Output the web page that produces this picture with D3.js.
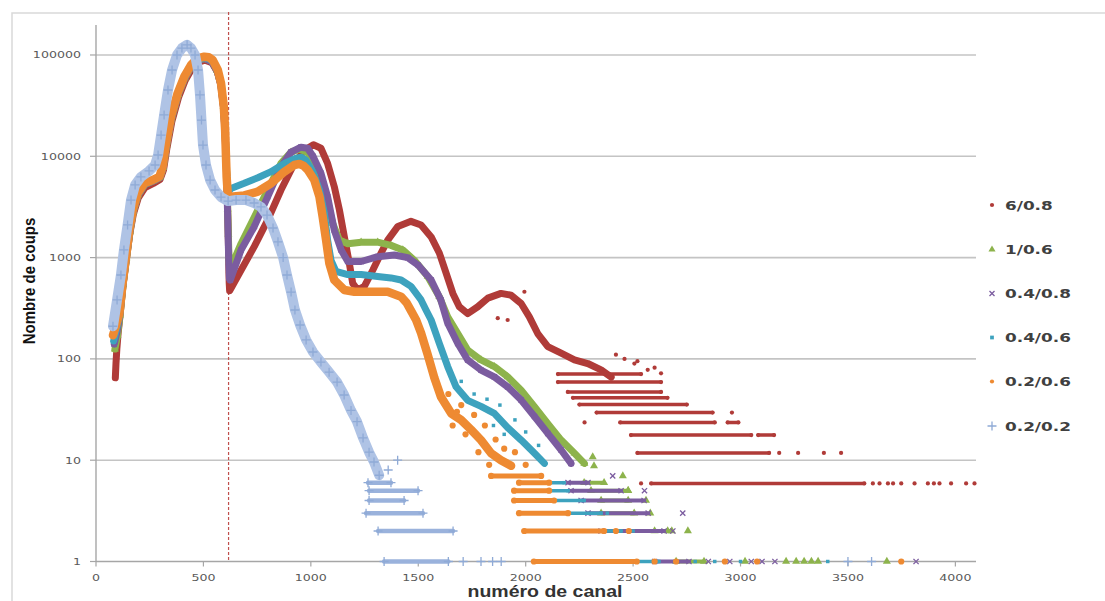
<!DOCTYPE html>
<html><head><meta charset="utf-8">
<script src="https://cdn.jsdelivr.net/npm/d3@7"></script>
<style>body{margin:0;background:#fff}</style>
</head><body>
<svg id="chart" width="1105" height="601"></svg>
<script>
// ---------------- DATA ----------------
const seriesLabels = ["6/0.8", "1/0.6", "0.4/0.8", "0.4/0.6", "0.2/0.6", "0.2/0.2"];
const xTicks = [0, 500, 1000, 1500, 2000, 2500, 3000, 3500, 4000];
const yTicks = [1, 10, 100, 1000, 10000, 100000];
const xMax = 4096;
const yMax = 197700;
const thresholdChannel = 617;
const xTitle = "numéro de canal";
const yTitle = "Nombre de coups";

// main curves: [channel, count]
const curve_6_08 = [[90,65],[93,90],[97,125],[103,180],[112,270],[125,520],[141,950],[157,1700],[174,2700],[197,3900],[228,4900],[267,5400],[298,5900],[314,7300],[330,12000],[353,22000],[384,38000],[415,56000],[446,73000],[477,85000],[508,89000],[540,84000],[565,68000],[582,50000],[594,30000],[601,17000],[606,9000],[610,5000],[613,2800],[616,1500],[618,900],[620,560],[622,470],[675,750],[737,1290],[799,2340],[861,4650],[923,8500],[970,11500],[1012,13000],[1047,12000],[1078,8500],[1109,5020],[1133,2950],[1156,1600],[1179,880],[1195,557],[1218,479],[1249,520],[1288,750],[1327,1110],[1358,1490],[1405,2030],[1466,2280],[1513,2100],[1560,1600],[1598,1110],[1630,700],[1661,443],[1691,327],[1730,280],[1777,327],[1824,398],[1885,443],[1932,425],[1979,352],[2017,260],[2056,178],[2103,132],[2165,114],[2227,98],[2289,90],[2351,78],[2398,66]];
const curve_1_06 = [[88,125],[100,170],[112,270],[126,540],[142,990],[158,1790],[174,2850],[197,4150],[228,5250],[267,5700],[298,6150],[313,7700],[329,12800],[352,23500],[383,40500],[414,59000],[445,77000],[476,89000],[507,92000],[539,86000],[564,70000],[581,52000],[594,31000],[601,18000],[606,9800],[610,5500],[613,3000],[616,1700],[619,1000],[622,750],[675,1370],[737,2510],[799,4650],[861,8500],[908,11000],[947,11800],[987,10800],[1032,7330],[1071,3990],[1102,2170],[1133,1490],[1172,1370],[1234,1420],[1311,1420],[1373,1320],[1428,1190],[1482,940],[1544,650],[1598,411],[1637,260],[1684,178],[1730,122],[1792,97.6],[1854,84],[1916,66.5],[1979,49],[2041,33.7],[2103,23],[2165,15.8],[2227,11.7],[2273,9.3]];
const curve_04_08 = [[85,140],[98,185],[111,275],[125,540],[141,990],[157,1780],[173,2850],[196,4150],[227,5250],[266,5700],[297,6150],[312,7700],[328,12800],[351,23500],[382,40500],[413,59000],[444,77000],[475,89000],[506,92000],[538,86000],[563,70000],[580,52000],[593,31000],[600,18000],[605,9800],[609,5500],[612,3000],[615,1600],[618,900],[621,620],[625,600],[675,1190],[737,2030],[799,3990],[861,7890],[908,11000],[954,12300],[985,12000],[1010,10000],[1047,6800],[1078,3990],[1109,1870],[1141,1190],[1172,915],[1234,915],[1311,1020],[1389,1060],[1451,1000],[1500,840],[1560,601],[1605,382],[1637,225],[1684,142],[1730,97.6],[1792,77.6],[1854,66.5],[1916,53],[1979,39.2],[2041,27],[2103,18.4],[2165,12.6],[2211,9.3]];
const curve_04_06 = [[82,150],[96,200],[110,270],[125,530],[141,980],[156,1800],[172,2850],[195,4200],[226,5300],[265,5750],[296,6200],[311,7700],[327,13000],[350,24000],[381,41000],[412,60000],[443,78000],[474,90000],[505,93500],[528,91000],[545,85000],[568,68000],[583,50000],[595,30000],[601,18000],[605,9800],[609,6000],[613,4600],[618,4500],[628,4820],[690,5410],[753,6140],[815,7050],[877,8500],[931,9600],[955,9800],[978,9100],[1009,7050],[1040,4650],[1063,2740],[1078,1490],[1094,940],[1117,730],[1172,680],[1234,680],[1311,650],[1373,630],[1420,601],[1466,520],[1513,382],[1536,304],[1560,242],[1598,142],[1637,84],[1676,53],[1730,39],[1792,34],[1854,29],[1916,21],[1979,15.8],[2041,11.7],[2087,9.3]];
const curve_02_06 = [[79,171],[95,220],[109,282],[124,557],[140,1020],[155,1870],[171,2950],[194,4310],[225,5410],[264,5830],[295,6290],[310,7890],[326,13400],[349,24600],[380,41900],[411,61100],[442,79600],[473,92700],[504,96200],[525,95000],[543,89300],[567,71100],[582,52500],[595,30900],[601,18200],[605,9900],[608,6290],[613,4310],[620,3990],[628,3990],[690,4110],[753,4470],[815,5410],[877,7050],[923,8200],[947,8400],[965,8100],[986,7330],[1016,5830],[1040,3990],[1055,2530],[1071,1490],[1086,879],[1109,601],[1156,479],[1203,460],[1280,460],[1358,460],[1420,411],[1445,360],[1466,300],[1490,242],[1513,180],[1544,110],[1575,65],[1606,42],[1653,29],[1699,25],[1746,20],[1792,15.8],[1839,11.7],[1885,10],[1932,8.8]];
const curve_02_02 = [[79,210],[98,382],[116,673],[130,1190],[147,2100],[163,3700],[182,5210],[209,6250],[247,7170],[275,8200],[289,10300],[303,16200],[317,25600],[335,45100],[354,71100],[377,100000],[400,117000],[424,126000],[442,117000],[461,100000],[475,71100],[484,40300],[491,22800],[498,12900],[512,8200],[531,5830],[554,4650],[582,3960],[615,3610],[652,3700],[698,3700],[736,3460],[768,3160],[796,2630],[824,1960],[847,1430],[871,1000],[889,673],[908,457],[926,304],[950,216],[978,154],[1010,117],[1047,93],[1085,74],[1122,59],[1155,44],[1187,31],[1215,24],[1243,16.6],[1271,12],[1294,9.6],[1318,7.1]];

// runs of equal low counts: [count, fromChannel, toChannel]
const runs_6_08 = [[70.8,2150,2537],[59,2150,2630],[47.2,2196,2630],[41.3,2220,2660],[35.4,2250,2750],[29.5,2330,2870],[23.6,2440,2880],[23.6,2940,2990],[17.7,2490,3050],[17.7,3082,3156],[11.8,2520,3133],[5.9,2584,3576]];
const runs_1_06 = [[6,2272,2365],[5,2304,2477],[4,2351,2477],[3,2351,2505],[2,2600,2680],[1,2700,2830]];
const runs_04_08 = [[6,2197,2290],[5,2211,2444],[4,2258,2551],[3,2290,2570],[2,2351,2644],[1,2600,2760]];
const runs_04_06 = [[6,2072,2179],[5,2072,2197],[4,2109,2272],[3,2132,2351],[2,2179,2444],[1,2517,2620]];
const runs_02_06 = [[7,1839,2072],[6,1969,2109],[5,1946,2109],[4,1946,2132],[3,1969,2197],[2,1993,2365],[1,2038,2517]];
const runs_02_02 = [[6,1266,1373],[5,1271,1499],[4,1271,1434],[3,1257,1522],[2,1313,1662],[1,1341,1640]];

// isolated points: [channel, count]
const dots_6_08 = [[1870,252],[1916,242],[1994,460],[2420,110],[2460,100],[2520,95],[2600,82],[2506,90],[2568,78],[2630,72],[2274,23.6],[2537,5.9],[2960,29.5],[3180,11.8],[3268,11.8],[3388,11.8],[3468,11.8],[3616,5.9],[3647,5.9],[3686,5.9],[3710,5.9],[3748,5.9],[3810,5.9],[3872,5.9],[3900,5.9],[3926,5.9],[3980,5.9],[4050,5.9],[4089,5.9]];
const dots_1_06 = [[2312,10.8],[2318,8.8],[2452,7],[2477,5],[2560,4],[2580,3],[2661,2],[2755,2],[3021,1],[3212,1],[3259,1],[3296,1],[3330,1],[3361,1],[3681,1]];
const dots_04_08 = [[2405,7],[2553,5],[2731,3],[2685,2],[2850,1],[2950,1],[3050,1],[3100,1],[3160,1],[3817,1]];
const dots_04_06 = [[1700,60],[1760,45],[1820,40],[1850,22],[1880,35],[1900,18],[1950,25],[2000,19],[2060,14],[2380,3],[2500,2],[2695,1],[2789,1],[2880,1],[3000,1],[3406,1]];
const dots_02_06 = [[1640,45],[1660,22],[1680,30],[1700,35],[1720,18],[1760,28],[1780,12],[1810,22],[1830,9],[1860,16],[1900,13],[1950,12],[2000,9],[2420,2],[2480,2],[2600,1],[2700,1],[2927,1],[3077,1],[3748,1]];
const dots_02_02 = [[1360,8],[1404,10],[1709,1],[1792,1],[1846,1],[1886,1],[3500,1],[3610,1]];

// ---------------- STYLE ----------------
const styles = [
  {color:"#B03B38", band:"#B03B38", run:"#B03B38", sym:"circle", size:14, bandW:7, runW:3.5},
  {color:"#8DB34C", band:"#8DB34C", run:"#8DB34C", sym:"triangle", size:28, bandW:7, runW:4},
  {color:"#7B5C9F", band:"#7B5C9F", run:"#7B5C9F", sym:"x", size:2.6, bandW:7, runW:4},
  {color:"#3DA2BE", band:"#3DA2BE", run:"#3DA2BE", sym:"square", size:12, bandW:7, runW:3.5},
  {color:"#EE8A32", band:"#EE8A32", run:"#EE8A32", sym:"circle", size:30, bandW:8.5, runW:5},
  {color:"#8FAAD6", band:"#AFC3E5", run:"#9AB2DC", sym:"plus", size:4.5, bandW:10, runW:4.5}
];
const curves = [curve_6_08, curve_1_06, curve_04_08, curve_04_06, curve_02_06, curve_02_02];
const runs = [runs_6_08, runs_1_06, runs_04_08, runs_04_06, runs_02_06, runs_02_02];
const dots = [dots_6_08, dots_1_06, dots_04_08, dots_04_06, dots_02_06, dots_02_02];

// ---------------- DRAW ----------------
const svg = d3.select("#chart");
const x = d3.scaleLinear().domain([0, xMax]).range([96, 976]);
const y = d3.scaleLog().domain([1, yMax]).range([561.5, 25]);

// outer chart border
svg.append("path").attr("d","M12,601 L12,13 L1105,13").attr("fill","none").attr("stroke","#d9d9d9").attr("stroke-width",1.5);

// gridlines
svg.append("g").selectAll("line").data(yTicks.filter(t=>t>1)).join("line")
  .attr("x1", x(0)).attr("x2", x(xMax)).attr("y1", d=>y(d)).attr("y2", d=>y(d))
  .attr("stroke","#c4c4c4").attr("stroke-width",1.6);

// axes
svg.append("line").attr("x1",x(0)).attr("x2",x(0)).attr("y1",y(yMax)).attr("y2",y(1)).attr("stroke","#a6a6a6").attr("stroke-width",1.4);
svg.append("line").attr("x1",x(0)).attr("x2",x(xMax)).attr("y1",y(1)).attr("y2",y(1)).attr("stroke","#a6a6a6").attr("stroke-width",1.4);
svg.append("g").selectAll("line").data(yTicks).join("line")
  .attr("x1", x(0)-6).attr("x2", x(0)).attr("y1", d=>y(d)).attr("y2", d=>y(d))
  .attr("stroke","#a6a6a6").attr("stroke-width",1.2);
svg.append("g").selectAll("line").data(xTicks).join("line")
  .attr("x1", d=>x(d)).attr("x2", d=>x(d)).attr("y1", y(1)).attr("y2", y(1)+5)
  .attr("stroke","#a6a6a6").attr("stroke-width",1.2);

// tick labels
svg.append("g").selectAll("text").data(yTicks).join("text")
  .attr("transform", d=>`translate(81,${y(d)+3.5}) scale(1.33,1)`)
  .attr("text-anchor","end").attr("font-family","DejaVu Sans").attr("font-size",9.5)
  .attr("fill","#595959").text(d=>d);
svg.append("g").selectAll("text").data(xTicks).join("text")
  .attr("transform", d=>`translate(${x(d)},${y(1)+19.5}) scale(1.33,1)`)
  .attr("text-anchor","middle").attr("font-family","DejaVu Sans").attr("font-size",9.5)
  .attr("fill","#595959").text(d=>d);

// axis titles
svg.append("text").attr("transform","translate(35,281) scale(1.15,1) rotate(-90)")
  .attr("text-anchor","middle").attr("font-family","Liberation Sans").attr("font-weight","bold")
  .attr("font-size",15).attr("fill","#111").text(yTitle);
svg.append("text").attr("transform","translate(545,597) scale(1.22,1)")
  .attr("text-anchor","middle").attr("font-family","Liberation Sans").attr("font-weight","bold")
  .attr("font-size",16).attr("fill","#333").text(xTitle);

// threshold line
svg.append("line").attr("x1",x(thresholdChannel)).attr("x2",x(thresholdChannel))
  .attr("y1",12).attr("y2",y(1)).attr("stroke","#C0504D").attr("stroke-width",1.2)
  .attr("stroke-dasharray","3,2");

function symPath(st){
  if (st.sym==="circle") return d3.symbol(d3.symbolCircle, st.size)();
  if (st.sym==="square") return d3.symbol(d3.symbolSquare, st.size)();
  if (st.sym==="triangle") return d3.symbol(d3.symbolTriangle, st.size)();
  const s = st.size;
  if (st.sym==="x") return `M${-s},${-s}L${s},${s}M${-s},${s}L${s},${-s}`;
  return `M${-s},0H${s}M0,${-s}V${s}`;
}
function drawMarks(g, data, st){
  const isStroke = st.sym==="x" || st.sym==="plus";
  g.selectAll(null).data(data).join("path")
    .attr("transform", d=>`translate(${x(d[0])},${y(d[1])})`)
    .attr("d", symPath(st))
    .attr("fill", isStroke ? "none" : st.color)
    .attr("stroke", isStroke ? st.color : "none")
    .attr("stroke-width", isStroke ? 1.3 : 0);
}

const line = d3.line().x(d=>x(d[0])).y(d=>y(d[1]));
curves.forEach((c, i) => {
  const st = styles[i];
  const g = svg.append("g");
  g.append("path").attr("d", line(c)).attr("fill","none").attr("stroke", st.band)
    .attr("stroke-width", st.bandW).attr("stroke-linejoin","round").attr("stroke-linecap","round");
  g.selectAll(null).data(runs[i]).join("line")
    .attr("x1", d=>x(d[1])).attr("x2", d=>x(d[2])).attr("y1", d=>y(d[0])).attr("y2", d=>y(d[0]))
    .attr("stroke", st.run).attr("stroke-width", st.runW).attr("stroke-linecap","round");
  drawMarks(g, c, st);
  drawMarks(g, dots[i], st);
  drawMarks(g, runs[i].flatMap(r => [[r[1], r[0]], [r[2], r[0]]]), st);
});

// legend
const legendY = [205, 249.5, 293.5, 337.5, 381.5, 426];
const lg = svg.append("g");
seriesLabels.forEach((lab, i) => {
  const st = Object.assign({}, styles[i]);
  if (st.sym==="x" || st.sym==="plus") st.size = st.sym==="x" ? 2.5 : 4.5;
  else st.size = st.sym==="triangle" ? 22 : 14;
  drawMarks(lg, [[x.invert(992), y.invert(legendY[i])]], st);
  lg.append("text").attr("transform",`translate(1005,${legendY[i]+4.5}) scale(1.35,1)`)
    .attr("font-family","DejaVu Sans").attr("font-weight","bold").attr("font-size",12.5)
    .attr("fill","#404040").text(lab);
});
</script>
</body></html>
